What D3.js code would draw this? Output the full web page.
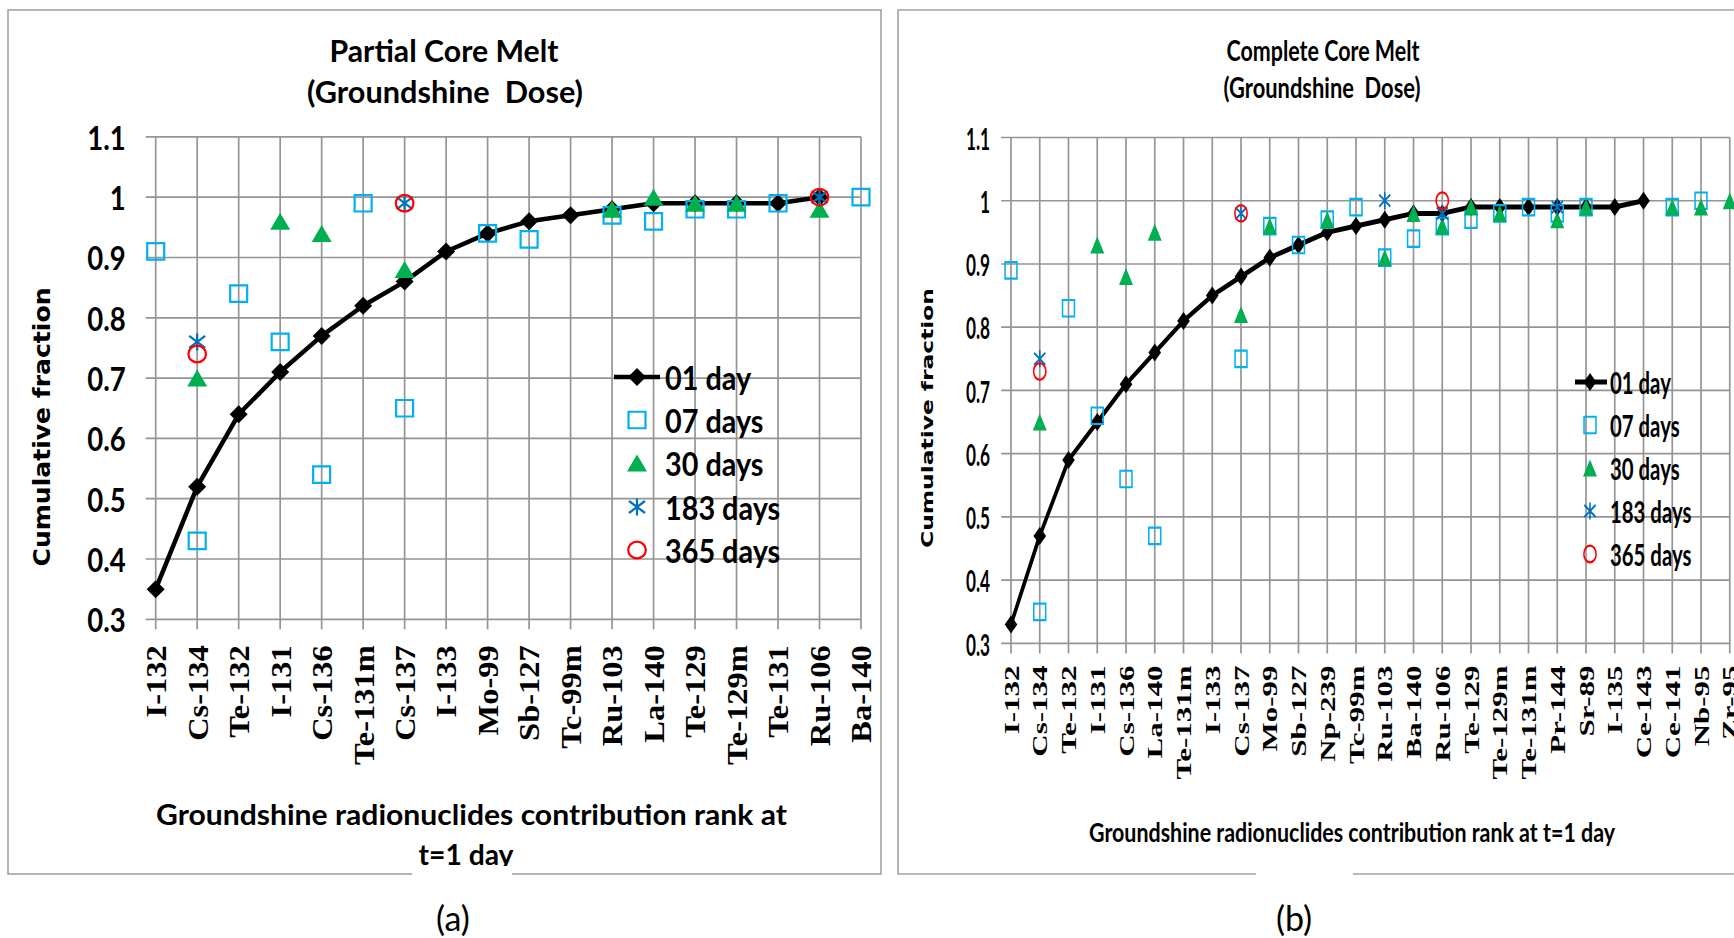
<!DOCTYPE html>
<html>
<head>
<meta charset="utf-8">
<script src="https://cdn.jsdelivr.net/npm/d3@7"></script>
<style>
  html, body { margin: 0; padding: 0; background: #fff; }
  svg { display: block; }
  text { white-space: pre; }
</style>
</head>
<body>
<svg id="fig" width="1734" height="938"></svg>
<script>
// ---------------- data ----------------
const yTicks = [0.3, 0.4, 0.5, 0.6, 0.7, 0.8, 0.9, 1.0, 1.1];
const seriesNames = ["01 day", "07 days", "30 days", "183 days", "365 days"];

// (a) Partial core melt
const partialNuclides = ["I-132", "Cs-134", "Te-132", "I-131", "Cs-136", "Te-131m", "Cs-137", "I-133", "Mo-99",
  "Sb-127", "Tc-99m", "Ru-103", "La-140", "Te-129", "Te-129m", "Te-131", "Ru-106", "Ba-140"];
const partialDay1   = [0.35, 0.52, 0.64, 0.71, 0.77, 0.82, 0.86, 0.91, 0.94, 0.96, 0.97, 0.98, 0.99, 0.99, 0.99, 0.99, 1.00, null];
const partialDay7   = [0.91, 0.43, 0.84, 0.76, 0.54, 0.99, 0.65, null, 0.94, 0.93, null, 0.97, 0.96, 0.98, 0.98, 0.99, null, 1.00];
const partialDay30  = [null, 0.70, null, 0.96, 0.94, null, 0.88, null, null, null, null, 0.98, 1.00, 0.99, 0.99, null, 0.98, null];
const partialDay183 = [null, 0.76, null, null, null, null, 0.99, null, null, null, null, null, null, null, null, null, 1.00, null];
const partialDay365 = [null, 0.74, null, null, null, null, 0.99, null, null, null, null, null, null, null, null, null, 1.00, null];

// (b) Complete core melt (Te-131m appears at two ranks)
const completeNuclides = ["I-132", "Cs-134", "Te-132", "I-131", "Cs-136", "La-140", "Te-131m", "I-133", "Cs-137", "Mo-99",
  "Sb-127", "Np-239", "Tc-99m", "Ru-103", "Ba-140", "Ru-106", "Te-129", "Te-129m", "Te-131m", "Pr-144", "Sr-89", "I-135",
  "Ce-143", "Ce-141", "Nb-95", "Zr-95"];
const completeDay1   = [0.33, 0.47, 0.59, 0.65, 0.71, 0.76, 0.81, 0.85, 0.88, 0.91, 0.93, 0.95, 0.96, 0.97, 0.98, 0.98, 0.99, 0.99, 0.99, 0.99, 0.99, 0.99, 1.00, null, null, null];
const completeDay7   = [0.89, 0.35, 0.83, 0.66, 0.56, 0.47, null, null, 0.75, 0.96, 0.93, 0.97, 0.99, 0.91, 0.94, 0.96, 0.97, 0.98, 0.99, 0.98, 0.99, null, null, 0.99, 1.00, null];
const completeDay30  = [null, 0.65, null, 0.93, 0.88, 0.95, null, null, 0.82, 0.96, null, 0.97, null, 0.91, 0.98, 0.96, 0.99, 0.98, null, 0.97, 0.99, null, null, 0.99, 0.99, 1.00];
const completeDay183 = [null, 0.75, null, null, null, null, null, null, 0.98, null, null, null, null, 1.00, null, 0.98, null, null, null, 0.99, null, null, null, null, null, null];
const completeDay365 = [null, 0.73, null, null, null, null, null, null, 0.98, null, null, null, null, null, null, 1.00, null, null, null, null, null, null, null, null, null, null];

// ---------------- styling ----------------
const GRID = "#959595";
const FRAME = "#a3a3a3";
const C01 = "#000000", C07 = "#00b0f0", C30 = "#00b050", C183 = "#0070c0", C365 = "#ff0000";
const SANS = "Lato, 'Open Sans', sans-serif";

const svg = d3.select("#fig");
svg.append("rect").attr("width", 1734).attr("height", 938).attr("fill", "#fff");

// marker shapes (centred on the origin)
const diamondPath  = r => `M0,${-r}L${r},0L0,${r}L${-r},0Z`;
const squarePath   = (w, h) => `M${-w / 2},${-h / 2}h${w}v${h}h${-w}Z`;
const trianglePath = (w, h) => `M0,${-h / 2}L${w / 2},${h / 2}L${-w / 2},${h / 2}Z`;
const starPath     = (a, b, c) => `M${-a},${-b}L${a},${b}M${-a},${b}L${a},${-b}M0,${-c}L0,${c}`;

function txt(g, str, x, y, o) {
  const t = g.append("text")
    .attr("font-family", o.family || SANS)
    .attr("font-weight", o.weight || "bold")
    .attr("font-size", o.size)
    .attr("text-anchor", o.anchor || "middle")
    .attr("dominant-baseline", "central")
    .attr("fill", "#000")
    .text(str);
  let tr = `translate(${x},${y})`;
  if (o.rotate) tr += ` rotate(${o.rotate})`;
  if (o.cond) tr += ` scale(${o.cond},1)`;
  t.attr("transform", tr);
  if (o.len) t.attr("textLength", o.len).attr("lengthAdjust", "spacingAndGlyphs");
  return t;
}

function drawMarker(sel, kind) {
  if (kind === 0) sel.append("path").attr("d", diamondPath(9)).attr("fill", C01);
  if (kind === 1) sel.append("path").attr("d", squarePath(17, 16.5)).attr("fill", "none").attr("stroke", C07).attr("stroke-width", 2.2);
  if (kind === 2) sel.append("path").attr("d", trianglePath(20, 17)).attr("fill", C30);
  if (kind === 3) sel.append("path").attr("d", starPath(8, 6, 8.5)).attr("fill", "none").attr("stroke", C183).attr("stroke-width", 2.2);
  if (kind === 4) sel.append("ellipse").attr("rx", 8.8).attr("ry", 8.3).attr("fill", "none").attr("stroke", C365).attr("stroke-width", 2.2);
}

// categories are placed by rank index, labelled with the nuclide name
function drawPanel(g, cfg) {
  const { cats, y, series } = cfg;
  const idx = d3.range(cats.length);
  const x = d3.scalePoint().domain(idx).range(cfg.xRange);
  const [xl, xr] = x.range();

  // gridlines
  g.append("g").selectAll("line").data(yTicks).join("line")
    .attr("x1", xl - cfg.tickLeft).attr("x2", xr)
    .attr("y1", d => y(d)).attr("y2", d => y(d))
    .attr("stroke", GRID).attr("stroke-width", 1.7).attr("vector-effect", "non-scaling-stroke");
  g.append("g").selectAll("line").data(idx).join("line")
    .attr("x1", d => x(d)).attr("x2", d => x(d))
    .attr("y1", y(1.1)).attr("y2", y(0.3) + cfg.tickDown)
    .attr("stroke", GRID).attr("stroke-width", 1.7).attr("vector-effect", "non-scaling-stroke");

  // value axis labels
  const ya = g.append("g").attr("transform", `translate(${xl},0)`)
    .call(d3.axisLeft(y).tickValues(yTicks).tickSize(0).tickFormat(d3.format("~g")));
  ya.select(".domain").remove();
  ya.selectAll("text")
    .attr("x", null).attr("dy", null)
    .attr("dominant-baseline", "central").attr("text-anchor", "end")
    .attr("font-family", SANS).attr("font-weight", "bold").attr("font-size", cfg.yLabSize)
    .attr("fill", "#000")
    .attr("transform", `translate(${-cfg.yLabGap},0) scale(${cfg.yLabCond},1)`);

  // category labels
  const xa = g.append("g").attr("transform", `translate(0,${y(0.3)})`)
    .call(d3.axisBottom(x).tickSize(0).tickFormat(i => cats[i]));
  xa.select(".domain").remove();
  xa.selectAll("text")
    .attr("y", null).attr("dy", "0.34em").attr("text-anchor", "end")
    .attr("font-family", "'Liberation Serif', 'Times New Roman', serif").attr("font-weight", "bold")
    .attr("font-size", cfg.xLabSize).attr("fill", "#000")
    .attr("transform", `translate(0,${cfg.xLabGap}) rotate(-90) scale(${cfg.xLabStretch},1)`);

  // 01 day line
  const rows = idx.map(i => ({ i, v: series[0][i] }));
  g.append("path")
    .attr("d", d3.line().defined(d => d.v != null).x(d => x(d.i)).y(d => y(d.v))(rows))
    .attr("fill", "none").attr("stroke", C01).attr("stroke-width", cfg.lineW)
    .attr("stroke-linejoin", "round");

  // markers, series in order
  series.forEach((arr, k) => {
    const pts = idx.map(i => ({ i, v: arr[i] })).filter(d => d.v != null);
    g.append("g").selectAll("g").data(pts).join("g")
      .attr("transform", d => `translate(${x(d.i)},${y(d.v)})`)
      .each(function () { drawMarker(d3.select(this), k); });
  });

  // legend
  const L = cfg.legend;
  seriesNames.forEach((name, k) => {
    const ry = L.rows[k];
    if (k === 0) {
      g.append("line").attr("x1", L.lineX[0]).attr("x2", L.lineX[1]).attr("y1", ry).attr("y2", ry)
        .attr("stroke", C01).attr("stroke-width", cfg.lineW);
    }
    drawMarker(g.append("g").attr("transform", `translate(${L.symX},${ry})`), k);
    txt(g, name, L.textX, ry, { size: L.size, anchor: "start", cond: L.cond });
  });
}

// ---------------- frames ----------------
const frames = svg.append("g").attr("fill", "none").attr("stroke", FRAME).attr("stroke-width", 1.6);
frames.append("rect").attr("x", 8).attr("y", 10).attr("width", 873).attr("height", 864);
frames.append("path").attr("d", "M1745,10H898V874H1745");

// ---------------- panel (a) ----------------
const gA = svg.append("g");
const yA = d3.scaleLinear().domain([0.3, 1.1]).range([619.3, 136.9]);
drawPanel(gA, {
  cats: partialNuclides, xRange: [155.7, 861], y: yA,
  series: [partialDay1, partialDay7, partialDay30, partialDay183, partialDay365],
  tickLeft: 10, tickDown: 10,
  yLabGap: 30, yLabSize: 32, yLabCond: 0.86,
  xLabGap: 26, xLabSize: 29, xLabStretch: 1.12,
  lineW: 4.5,
  legend: { lineX: [614, 660], symX: 637, textX: 665, rows: [377, 420, 463, 507, 550], size: 32, cond: 0.9 }
});
txt(gA, "Partial Core Melt", 444, 50, { size: 31, len: 229 });
txt(gA, "(Groundshine  Dose)", 445, 91, { size: 31, len: 276 });
txt(gA, "Cumulative fraction", 42, 427, { size: 23, rotate: -90, family: "'DejaVu Sans', Verdana, sans-serif", len: 279 });
txt(gA, "Groundshine radionuclides contribution rank at", 471.5, 813, { size: 29, len: 631 });
txt(gA, "t=1 day", 466, 853, { size: 29, len: 95 });

// ---------------- panel (b) ----------------
// this panel is drawn horizontally condensed
const SX = 0.7, BX0 = 1011;
const u = sx => (sx - BX0) / SX;
const gB = svg.append("g").attr("transform", `translate(${BX0},0) scale(${SX},1)`);
const yB = d3.scaleLinear().domain([0.3, 1.1]).range([643.4, 137.5]);
drawPanel(gB, {
  cats: completeNuclides, xRange: [0, 1026.8], y: yB,
  series: [completeDay1, completeDay7, completeDay30, completeDay183, completeDay365],
  tickLeft: 14, tickDown: 10,
  yLabGap: 30, yLabSize: 30, yLabCond: 0.82,
  xLabGap: 22, xLabSize: 31, xLabStretch: 1.0,
  lineW: 5,
  legend: { lineX: [u(1575), u(1607)], symX: u(1590), textX: u(1610), rows: [382, 425, 468, 511, 554], size: 30, cond: 0.97 }
});
txt(gB, "Complete Core Melt", u(1323), 49.5, { size: 28, len: 193 / SX });
txt(gB, "(Groundshine  Dose)", u(1322), 86.5, { size: 28, len: 197 / SX });
txt(gB, "Cumulative fraction", u(927), 418, { size: 22, rotate: -90, family: "'DejaVu Sans', Verdana, sans-serif", len: 260 });
txt(gB, "Groundshine radionuclides contribution rank at t=1 day", u(1352), 832, { size: 27, len: 526 / SX });

// ---------------- captions ----------------
const cap = svg.append("g");
cap.append("rect").attr("x", 412).attr("y", 866).attr("width", 100).attr("height", 72).attr("fill", "#fff");
cap.append("rect").attr("x", 1256).attr("y", 866).attr("width", 97).attr("height", 72).attr("fill", "#fff");
txt(cap, "(a)", 453, 917, { size: 34, weight: "normal" });
txt(cap, "(b)", 1294, 917, { size: 34, weight: "normal" });
</script>
</body>
</html>
